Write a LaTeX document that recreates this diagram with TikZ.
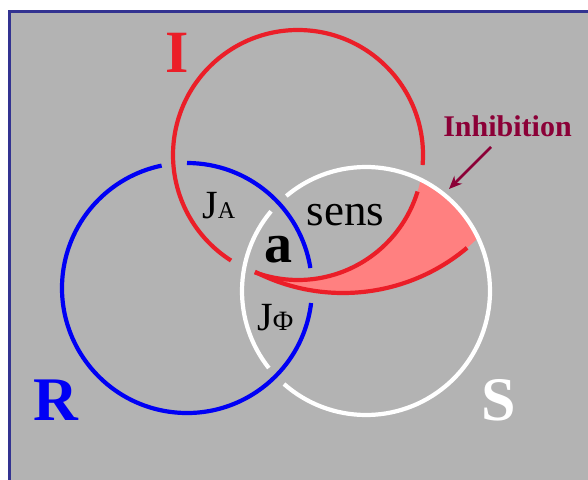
\documentclass[tikz,border=0pt]{standalone}
\usepackage{fontspec}
\setmainfont{Liberation Serif}
\usetikzlibrary{arrows.meta}
\definecolor{bggray}{RGB}{179,179,179}
\definecolor{framec}{RGB}{51,51,145}
\definecolor{redc}{RGB}{235,30,40}
\definecolor{pinkc}{RGB}{255,128,128}
\definecolor{bluec}{RGB}{0,0,245}
\definecolor{maroonc}{RGB}{139,0,55}
\tikzset{
  ring/.style={line width=4.2pt},
  lbl/.style={inner sep=0pt, anchor=base},
}
\newcommand{\fsz}[1]{\fontsize{#1pt}{#1pt}\selectfont}
\begin{document}
\begin{tikzpicture}[x=1pt,y=-1pt]
\useasboundingbox (0,0) rectangle (588,479);
\clip (0,0) rectangle (588,479);
% background
\fill[white] (0,0) rectangle (588,479);
\fill[bggray] (9.5,11.5) rectangle (600,490);
\draw[framec, line width=3pt] (9.5,490) -- (9.5,11.5) -- (600,11.5);
% centres
\coordinate (Ic) at (298,155);
\coordinate (Rc) at (187,288);
\coordinate (Sc) at (366,291);
\coordinate (Oc) at (343,100);
% pink inhibition band
\begin{scope}
  \clip (Sc) circle[radius=124];
  \clip (Oc) circle[radius=193];
  \fill[pinkc, even odd rule] (0,0) rectangle (588,479) (Ic) circle[radius=125];
\end{scope}
% white circle S
\draw[white, ring] (Sc) ++(-130:124) arc[start angle=-130, end angle=131.4, radius=124];
\draw[white, ring] (Sc) ++(141.6:124) arc[start angle=141.6, end angle=220, radius=124];
% blue circle R
\draw[bluec, ring] (Rc) ++(-90:125) arc[start angle=-90, end angle=-9.2, radius=125];
\draw[bluec, ring] (Rc) ++(6.9:125) arc[start angle=6.9, end angle=258.3, radius=125];
% red circle I
\draw[redc, ring] (Ic) ++(4.6:125) arc[start angle=4.6, end angle=-237.6, radius=125];
\draw[redc, ring] (Ic) ++(17:125) arc[start angle=17, end angle=110.2, radius=125];
\draw[redc, ring] (Oc) ++(50:193) arc[start angle=50, end angle=117.1, radius=193];
% labels
\node[lbl, text=redc] (labI) at (177.5,72) {\fsz{60}\bfseries I};
\node[lbl, text=bluec] (labR) at (55.5,420) {\fsz{62}\bfseries R};
\node[lbl, text=white] (labS) at (499,420) {\fsz{62}\bfseries S};
\node[lbl] (sens) at (345.5,225) {\fsz{45}sens};
\node[lbl] (a) at (278.5,262) {\fsz{56}\bfseries a};
\node[lbl, anchor=base west] (JA) at (202,218) {\fsz{40}J\fsz{24}A};
\node[lbl, anchor=base west] (JF) at (257,330) {\fsz{40}J\fsz{28}Φ};
\node[lbl, text=maroonc] (inh) at (507.5,136) {\fsz{30}\bfseries Inhibition};
% arrow
\coordinate (arrS) at (491,147);
\coordinate (arrE) at (449,189);
\draw[maroonc, line width=2.5pt, -{Stealth[length=13pt,width=11pt]}] (arrS) -- (arrE);
\end{tikzpicture}
\end{document}
